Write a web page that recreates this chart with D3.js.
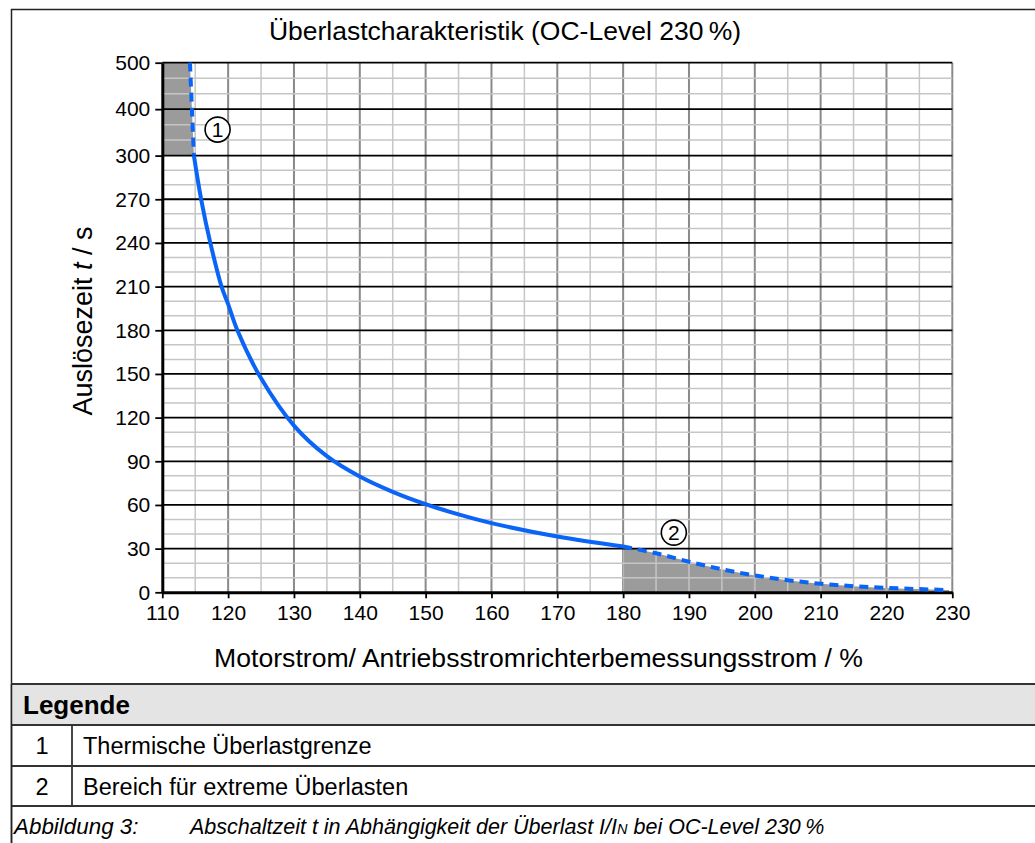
<!DOCTYPE html>
<html>
<head>
<meta charset="utf-8">
<script src="https://cdn.jsdelivr.net/npm/d3@7"></script>
<style>
  body { margin: 0; background: #fff; }
  svg text { font-family: "Liberation Sans", Arial, sans-serif; fill: #000; }
</style>
</head>
<body>
<svg id="chart" width="1035" height="843"></svg>
<script>
(function (d3) {
    'use strict';

    // values
    var xTicks = [110, 120, 130, 140, 150, 160, 170, 180, 190, 200, 210, 220, 230];
    var yTicks = [0, 30, 60, 90, 120, 150, 180, 210, 240, 270, 300, 400, 500];

    // thermal limit, dashed part above 300 s
    var upperCurrent = [114.2, 114.5, 114.8];
    var upperTime = [500, 400, 300];

    // thermal limit, solid part
    var thermalCurrent = [114.8, 115.9, 117.3, 119.0, 120, 121.4, 125, 130, 135, 140, 145, 150, 155, 160, 170, 180];
    var thermalTime = [300, 270, 240, 210, 198, 180, 147, 114.5, 93.5, 79.5, 69, 60.5, 53.5, 47.5, 38.3, 31.5];

    // extreme overload range, dashed
    var extremeCurrent = [180, 185, 190, 195, 200, 205, 210, 215, 220, 225, 229.5];
    var extremeTime = [31.5, 26.8, 21, 15.8, 11.6, 8.3, 5.9, 4.2, 3.0, 2.2, 1.5];

    var markerLabels = ['1', '2'];
    var markerCurrent = [118.4, 187.7];
    var markerTime = [356, 41];

    var legendNumbers = ['1', '2'];
    var legendTexts = ['Thermische Überlastgrenze', 'Bereich für extreme Überlasten'];

    var width = 1035,
        height = 843,
        plot = { left: 162.3, right: 952.3, top: 62.7, bottom: 592.3 };

    var x = d3.scaleLinear().domain([110, 230]).range([plot.left, plot.right]),
        y = d3.scaleLinear().domain([0, 300, 500]).range([plot.bottom, 155.6, plot.top]);

    var blue = '#0a64f5';

    function zip(a, b) {
        return a.map(function (v, i) { return { i: v, t: b[i] }; });
    }
    var upper = zip(upperCurrent, upperTime),
        thermal = zip(thermalCurrent, thermalTime),
        extreme = zip(extremeCurrent, extremeTime);

    var svg = d3.select('#chart');

    // frame of the figure
    svg.append('line').attr('x1', 11.5).attr('x2', 11.5).attr('y1', 9).attr('y2', height)
        .attr('stroke', '#222').attr('stroke-width', 1.5);
    svg.append('line').attr('x1', 11).attr('x2', width).attr('y1', 9.5).attr('y2', 9.5)
        .attr('stroke', '#222').attr('stroke-width', 1.5);

    // grey regions
    var upperArea = d3.area()
        .curve(d3.curveMonotoneY)
        .x0(x(110))
        .x1(function (d) { return x(d.i); })
        .y(function (d) { return y(d.t); });
    var extremeArea = d3.area()
        .curve(d3.curveCatmullRom)
        .x(function (d) { return x(d.i); })
        .y0(y(0))
        .y1(function (d) { return y(d.t); });

    var defs = svg.append('defs');
    var clip = defs.append('clipPath').attr('id', 'greyClip');
    clip.append('path').attr('d', upperArea(upper.slice().reverse()));
    clip.append('path').attr('d', extremeArea(extreme));

    var grid = svg.append('g').attr('class', 'grid');

    var minorX = d3.range(115, 230, 10);
    var minorY = [];
    yTicks.forEach(function (v, k) {
        if (k === 0) return;
        var p = yTicks[k - 1], step = (v - p) / 3;
        minorY.push(p + step, p + 2 * step);
    });

    // major vertical lines
    grid.selectAll('.vmajor').data(xTicks.slice(1)).enter().append('line')
        .attr('x1', x).attr('x2', x).attr('y1', plot.top).attr('y2', plot.bottom)
        .attr('stroke', '#8a8a8a').attr('stroke-width', 2);

    svg.append('path').attr('d', upperArea(upper.slice().reverse())).attr('fill', '#9b9b9b');
    svg.append('path').attr('d', extremeArea(extreme)).attr('fill', '#9b9b9b');

    // lighter grid inside the grey regions
    svg.append('g').attr('clip-path', 'url(#greyClip)')
        .selectAll('line').data(xTicks.slice(1)).enter().append('line')
        .attr('x1', x).attr('x2', x).attr('y1', plot.top).attr('y2', plot.bottom)
        .attr('stroke', '#b9b9b9').attr('stroke-width', 2);

    var minor = svg.append('g');
    minor.selectAll('.vminor').data(minorX).enter().append('line')
        .attr('x1', x).attr('x2', x).attr('y1', plot.top).attr('y2', plot.bottom)
        .attr('stroke', '#c6c6c6').attr('stroke-width', 1.5);
    minor.selectAll('.hminor').data(minorY).enter().append('line')
        .attr('x1', plot.left).attr('x2', plot.right).attr('y1', y).attr('y2', y)
        .attr('stroke', '#c6c6c6').attr('stroke-width', 1.5);

    // major horizontal lines
    svg.append('g').selectAll('line').data(yTicks.slice(1)).enter().append('line')
        .attr('x1', plot.left).attr('x2', plot.right).attr('y1', y).attr('y2', y)
        .attr('stroke', '#000').attr('stroke-width', 1.8);

    // axes
    var yAxis = svg.append('g')
        .attr('transform', 'translate(' + plot.left + ',0)')
        .call(d3.axisLeft(y).tickValues(yTicks).tickSize(7).tickSizeOuter(0).tickPadding(5));
    var xAxis = svg.append('g')
        .attr('transform', 'translate(0,' + plot.bottom + ')')
        .call(d3.axisBottom(x).tickValues(xTicks).tickSize(6).tickSizeOuter(0).tickPadding(6));

    [yAxis, xAxis].forEach(function (a) {
        a.attr('font-size', 21).attr('font-family', '"Liberation Sans", Arial, sans-serif');
        a.select('.domain').attr('stroke', '#000').attr('stroke-width', 3);
        a.selectAll('.tick line').attr('stroke', '#000').attr('stroke-width', 1.8);
        a.selectAll('.tick text').attr('fill', '#000');
    });
    xAxis.selectAll('.tick text').attr('dy', '0.75em');

    // curves
    var line = d3.line()
        .curve(d3.curveCatmullRom)
        .x(function (d) { return x(d.i); })
        .y(function (d) { return y(d.t); });

    svg.append('path').attr('d', line(thermal))
        .attr('fill', 'none').attr('stroke', blue).attr('stroke-width', 4);
    svg.append('path').attr('d', line(upper))
        .attr('fill', 'none').attr('stroke', blue).attr('stroke-width', 4)
        .attr('stroke-dasharray', '9,6');
    svg.append('path').attr('d', line(extreme))
        .attr('fill', 'none').attr('stroke', blue).attr('stroke-width', 4)
        .attr('stroke-dasharray', '9,6');

    // circled numbers
    var markers = svg.selectAll('.marker')
        .data(markerLabels)
        .enter().append('g')
        .attr('transform', function (d, k) {
            return 'translate(' + x(markerCurrent[k]) + ',' + y(markerTime[k]) + ')';
        });
    markers.append('circle').attr('r', 12.5)
        .attr('fill', '#fff').attr('stroke', '#000').attr('stroke-width', 1.6);
    markers.append('text')
        .attr('text-anchor', 'middle').attr('dy', '0.36em')
        .style('font-size', '21px')
        .text(function (d) { return d; });

    // titles
    svg.append('text')
        .attr('x', 505).attr('y', 40)
        .attr('text-anchor', 'middle')
        .style('font-size', '26.5px')
        .text('Überlastcharakteristik (OC-Level 230\u2009%)');

    var yLabel = svg.append('text')
        .attr('transform', 'translate(92,321) rotate(-90)')
        .attr('text-anchor', 'middle')
        .style('font-size', '27px');
    yLabel.append('tspan').text('Auslösezeit ');
    yLabel.append('tspan').style('font-style', 'italic').text('t');
    yLabel.append('tspan').text(' / s');

    svg.append('text')
        .attr('x', 538.5).attr('y', 667)
        .attr('text-anchor', 'middle')
        .style('font-size', '26.6px')
        .text('Motorstrom/ Antriebsstromrichterbemessungsstrom / %');

    // legend table
    svg.append('rect')
        .attr('x', 11.5).attr('y', 684).attr('width', width).attr('height', 41)
        .attr('fill', '#e4e4e4');
    [684, 725, 766, 806].forEach(function (ly) {
        svg.append('line').attr('x1', 11).attr('x2', width).attr('y1', ly).attr('y2', ly)
            .attr('stroke', '#333').attr('stroke-width', 1.8);
    });
    svg.append('line').attr('x1', 11.5).attr('x2', 11.5).attr('y1', 684).attr('y2', height)
        .attr('stroke', '#222').attr('stroke-width', 1.5);
    svg.append('line').attr('x1', 72).attr('x2', 72).attr('y1', 725).attr('y2', 806)
        .attr('stroke', '#333').attr('stroke-width', 1.8);

    svg.append('text')
        .attr('x', 23).attr('y', 714)
        .style('font-size', '26px').style('font-weight', 'bold')
        .text('Legende');

    var rows = svg.selectAll('.legend-row')
        .data(legendNumbers)
        .enter().append('g')
        .attr('transform', function (d, k) { return 'translate(0,' + (754 + k * 41) + ')'; });
    rows.append('text')
        .attr('x', 42).attr('text-anchor', 'middle')
        .style('font-size', '23.5px')
        .text(function (d) { return d; });
    rows.append('text')
        .attr('x', 83)
        .style('font-size', '23.5px')
        .text(function (d, k) { return legendTexts[k]; });

    svg.append('text')
        .attr('x', 14).attr('y', 834)
        .style('font-size', '22.4px').style('font-style', 'italic')
        .text('Abbildung 3:');
    var caption = svg.append('text')
        .attr('x', 190).attr('y', 834)
        .style('font-size', '21.5px').style('font-style', 'italic');
    caption.append('tspan').text('Abschaltzeit t in Abhängigkeit der Überlast I/I');
    caption.append('tspan').style('font-size', '14.5px').text('N');
    caption.append('tspan').text(' bei OC-Level 230\u2009%');

})(window.d3);
</script>
</body>
</html>
